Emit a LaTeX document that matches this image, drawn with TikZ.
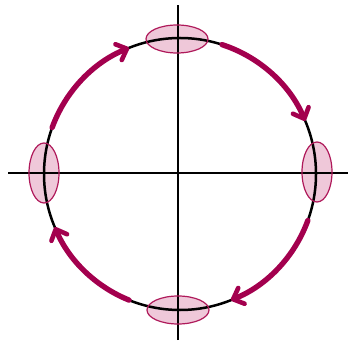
\documentclass[tikz,border=0pt]{standalone}
\usetikzlibrary{arrows.meta}
\definecolor{plum}{RGB}{163,0,78}
\definecolor{rim}{RGB}{175,25,90}
\definecolor{blush}{RGB}{236,190,210}
\tikzset{
  axis/.style={line width=1.8pt,black},
  ring/.style={line width=2.5pt,black},
  flow/.style={line width=5.4pt,plum,line cap=round,-{Straight Barb[length=9pt,width=17pt,line width=4.6pt,round]}},
  blob/.style={fill=blush,fill opacity=0.85},
  blobrim/.style={draw=rim,line width=1.2pt}
}
\begin{document}
\begin{tikzpicture}[x=1pt,y=1pt]
\useasboundingbox (0,0) rectangle (350,345);
\coordinate (c) at (180,171);
\coordinate (t) at (177,306);
\coordinate (r) at (317,173);
\coordinate (l) at (44,172);
\coordinate (b) at (178,35);
% fills
\fill[blob] (t) ellipse [x radius=31pt,y radius=14pt];
\fill[blob] (r) ellipse [x radius=15pt,y radius=30pt];
\fill[blob] (l) ellipse [x radius=15pt,y radius=30pt];
\fill[blob] (b) ellipse [x radius=31pt,y radius=14pt];
% axes
\coordinate (xw) at (8,172);
\coordinate (xe) at (348,172);
\coordinate (yn) at (178,340);
\coordinate (ys) at (178,5);
\draw[axis] (xw) -- (xe);
\draw[axis] (ys) -- (yn);
% circle
\draw[ring] (c) circle [radius=136pt];
% rims
\draw[blobrim] (t) ellipse [x radius=31pt,y radius=14pt];
\draw[blobrim] (r) ellipse [x radius=15pt,y radius=30pt];
\draw[blobrim] (l) ellipse [x radius=15pt,y radius=30pt];
\draw[blobrim] (b) ellipse [x radius=31pt,y radius=14pt];
% arrows
\draw[flow] ([shift={(160:136pt)}]c) arc [start angle=160,end angle=112,radius=136pt];
\draw[flow] ([shift={(72:136pt)}]c) arc [start angle=72,end angle=23,radius=136pt];
\draw[flow] ([shift={(-20:136pt)}]c) arc [start angle=-20,end angle=-68,radius=136pt];
\draw[flow] ([shift={(-112:136pt)}]c) arc [start angle=-112,end angle=-157,radius=136pt];
\end{tikzpicture}
\end{document}
